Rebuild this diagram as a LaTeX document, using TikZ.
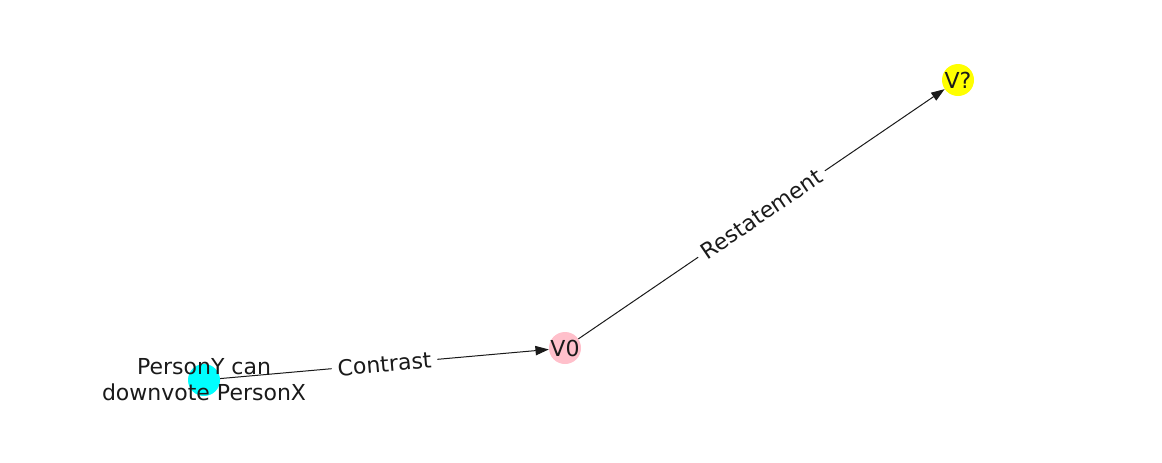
\documentclass[tikz,border=0pt]{standalone}
\usepackage{fontspec}
\setmainfont{DejaVu Sans}
\usetikzlibrary{arrows.meta}
\definecolor{nodecyan}{HTML}{00FFFF}
\definecolor{nodepink}{HTML}{FFC0CB}
\definecolor{nodeyellow}{HTML}{FFFF00}
\definecolor{txt}{HTML}{1A1A1A}
\begin{document}
\begin{tikzpicture}[x=0.75pt,y=-0.75pt,
  dot/.style={circle,inner sep=0pt,minimum size=24pt,draw=none},
  lbl/.style={font=\fontsize{16.5pt}{19.5pt}\selectfont,text=txt,align=center,inner sep=0pt},
  edge/.style={draw=txt,line width=0.75pt,-{Triangle[length=10pt,width=7pt]}},
  elbl/.style={font=\fontsize{16.5pt}{19.5pt}\selectfont,text=txt,fill=white,inner sep=4.5pt,sloped,midway}]
\path[use as bounding box,fill=white] (0,0) rectangle (1162,462);
\node[dot,fill=nodecyan] (a) at (204,380) {};
\node[dot,fill=nodepink] (b) at (565,348) {};
\node[dot,fill=nodeyellow] (c) at (958,80) {};
\draw[edge] (a) -- node[elbl] (la) {Contrast} (b);
\draw[edge] (b) -- node[elbl] (lb) {Restatement} (c);
\node[lbl] (ta) at (a) {PersonY can\\downvote PersonX};
\node[lbl] (tb) at (b) {V0};
\node[lbl] (tc) at (c) {V?};
\end{tikzpicture}
\end{document}
